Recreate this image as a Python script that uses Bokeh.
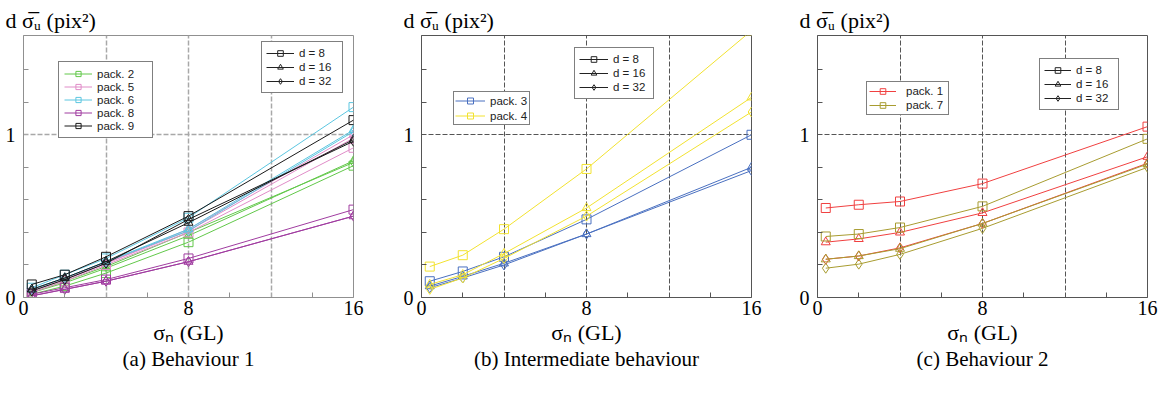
from bokeh.plotting import figure
from bokeh.models import Range1d, FixedTicker, Legend, LegendItem, Title
from bokeh.layouts import row
from bokeh.embed import file_html
from bokeh.resources import INLINE

# ---------------- data ----------------
sigma_n = [0.4, 2, 4, 8, 16]
d_labels = ["d = 8", "d = 16", "d = 32"]
d_markers = ["square", "triangle", "diamond"]

# panel (a) Behaviour 1 : each pack -> [d=8, d=16, d=32]
pack2 = [[0.02, 0.07, 0.15, 0.34, 0.81], [0.03, 0.09, 0.18, 0.38, 0.84], [0.03, 0.10, 0.19, 0.40, 0.83]]
pack5 = [[0.03, 0.10, 0.20, 0.40, 0.92], [0.04, 0.11, 0.21, 0.42, 1.00], [0.04, 0.11, 0.21, 0.41, 0.98]]
pack6 = [[0.06, 0.14, 0.24, 0.49, 1.17], [0.05, 0.12, 0.22, 0.42, 1.03], [0.05, 0.12, 0.22, 0.41, 1.02]]
pack8 = [[0.02, 0.06, 0.11, 0.24, 0.54], [0.01, 0.05, 0.10, 0.22, 0.50], [0.01, 0.05, 0.10, 0.22, 0.50]]
pack9 = [[0.08, 0.14, 0.25, 0.50, 1.09], [0.05, 0.12, 0.22, 0.46, 0.97], [0.04, 0.11, 0.21, 0.48, 0.96]]

# panel (b) Intermediate behaviour
pack3 = [[0.10, 0.16, 0.25, 0.48, 1.00], [0.07, 0.13, 0.21, 0.39, 0.80], [0.06, 0.12, 0.20, 0.39, 0.78]]
pack4 = [[0.19, 0.26, 0.42, 0.79, 1.64], [0.08, 0.14, 0.27, 0.55, 1.23], [0.05, 0.12, 0.24, 0.50, 1.14]]

# panel (c) Behaviour 2
pack1 = [[0.55, 0.57, 0.59, 0.70, 1.05], [0.34, 0.36, 0.40, 0.52, 0.865], [0.235, 0.255, 0.305, 0.455, 0.825]]
pack7 = [[0.375, 0.39, 0.43, 0.56, 0.975], [0.235, 0.255, 0.30, 0.455, 0.82], [0.18, 0.205, 0.265, 0.425, 0.80]]

x_ticks = [0, 4, 8, 12, 16]
x_minor = [2, 6, 10, 14]
y_ticks = [0, 1]
y_minor = [0.2, 0.4, 0.6, 0.8, 1.2, 1.4]

y_label = "d \u03c3\u0305\u1d64 (pix\u00b2)"
x_label = "\u03c3\u2099 (GL)"

# ---------------- layout constants ----------------
FW, FH = 330, 262
XMAX, YMAX = 16, 1.61
SERIF = "Liberation Serif"
SANS = "Liberation Sans"
NAN = float("nan")


def make_panel(packs, caption, right, grid_color, grid_width, frame_color,
               pack_leg, d_leg):
    p = figure(frame_width=FW, frame_height=FH, x_range=Range1d(0, XMAX),
               y_range=Range1d(0, YMAX), output_backend="svg", toolbar_location=None,
               min_border_left=23, min_border_right=right, min_border_top=35,
               min_border_bottom=70)
    p.background_fill_color = "white"
    p.border_fill_color = "white"
    p.outline_line_color = frame_color
    p.outline_line_width = 1

    # y label as the top title
    p.title.text = y_label
    p.title.align = "left"
    p.title.offset = -18
    p.title.standoff = 5
    p.title.text_font = SERIF
    p.title.text_font_size = "22px"
    p.title.text_font_style = "normal"
    p.title.text_color = "black"

    for ax in (p.xaxis[0], p.yaxis[0]):
        ax.axis_line_color = frame_color
        ax.major_tick_in = 0
        ax.major_tick_out = 0
        ax.minor_tick_in = 5
        ax.minor_tick_out = 0
        ax.minor_tick_line_color = frame_color
        ax.major_label_text_font = SERIF
        ax.major_label_text_font_size = "20px"
        ax.major_label_text_color = "black"
    p.xaxis[0].ticker = FixedTicker(ticks=x_ticks, minor_ticks=x_minor)
    p.xaxis[0].major_label_overrides = {4: "", 12: ""}
    p.xaxis[0].major_label_standoff = 3
    p.yaxis[0].ticker = FixedTicker(ticks=y_ticks, minor_ticks=y_minor)
    p.yaxis[0].major_label_standoff = 8

    for g in (p.xgrid[0], p.ygrid[0]):
        g.grid_line_color = grid_color
        g.grid_line_width = grid_width
        g.grid_line_dash = "5 2"

    pack_items = []
    for name, color, series in packs:
        first = None
        for vals, mk in zip(series, d_markers):
            lr = p.line(sigma_n, vals, line_color=color, line_width=1)
            sr = p.scatter(sigma_n, vals, marker=mk, size=9 if mk != "diamond" else 10,
                           line_color=color, fill_color=None, line_width=1)
            if first is None:
                first = [lr, sr]
        pack_items.append(LegendItem(label=name, renderers=first))

    d_items = []
    for lab, mk in zip(d_labels, d_markers):
        lr = p.line(x=[NAN], y=[NAN], line_color="#222222", line_width=1)
        sr = p.scatter(x=[NAN], y=[NAN], marker=mk, size=9 if mk != "diamond" else 10,
                       line_color="#222222", fill_color=None, line_width=1)
        d_items.append(LegendItem(label=lab, renderers=[lr, sr]))

    for items, (lx, ly, pad, gw, gh, stand, lw) in ((pack_items, pack_leg), (d_items, d_leg)):
        leg = Legend(items=items, location=(lx, ly), orientation="vertical",
                     padding=pad, spacing=0, margin=0, glyph_width=gw, glyph_height=gh,
                     label_height=gh, label_width=lw, label_standoff=stand,
                     label_text_font=SANS, label_text_font_size="11.5px",
                     label_text_color="#222222", border_line_color="black",
                     border_line_width=1, background_fill_color="white",
                     background_fill_alpha=1)
        p.add_layout(leg)

    # x label and caption below the axis
    p.add_layout(Title(text=x_label, align="center", standoff=0, text_font=SERIF,
                       text_font_size="22px", text_font_style="normal",
                       text_color="black"), "below")
    p.add_layout(Title(text=caption, align="center", standoff=0, text_font=SERIF,
                       text_font_size="21px", text_font_style="normal",
                       text_color="black"), "below")
    return p


pa = make_panel(
    [("pack. 2", "#62c84a", pack2), ("pack. 5", "#e08cc8", pack5),
     ("pack. 6", "#5cc6e0", pack6), ("pack. 8", "#a03ca0", pack8),
     ("pack. 9", "#1a1a1a", pack9)],
    "(a) Behaviour 1", 45, "#a8a8a8", 1.5, "#909090",
    (35, 159, 5, 28, 13, 5, 50), (238, 204, 4, 28, 14, 5, 39))

pb = make_panel(
    [("pack. 3", "#4a70c0", pack3), ("pack. 4", "#f2e230", pack4)],
    "(b) Intermediate behaviour", 43, "#555555", 1, "#555555",
    (32, 172, 1, 30, 15, 5, 38), (153, 198, 4, 29, 14, 5, 36))

pc = make_panel(
    [("pack. 1", "#f04040", pack1), ("pack. 7", "#a89c30", pack7)],
    "(c) Behaviour 2", 14, "#555555", 1, "#555555",
    (49, 182, 2, 27, 14, 10, 40), (222, 187, 4, 27, 14, 5, 38))

layout = row(pa, pb, pc)
open("out.html", "w").write(file_html(layout, INLINE))
